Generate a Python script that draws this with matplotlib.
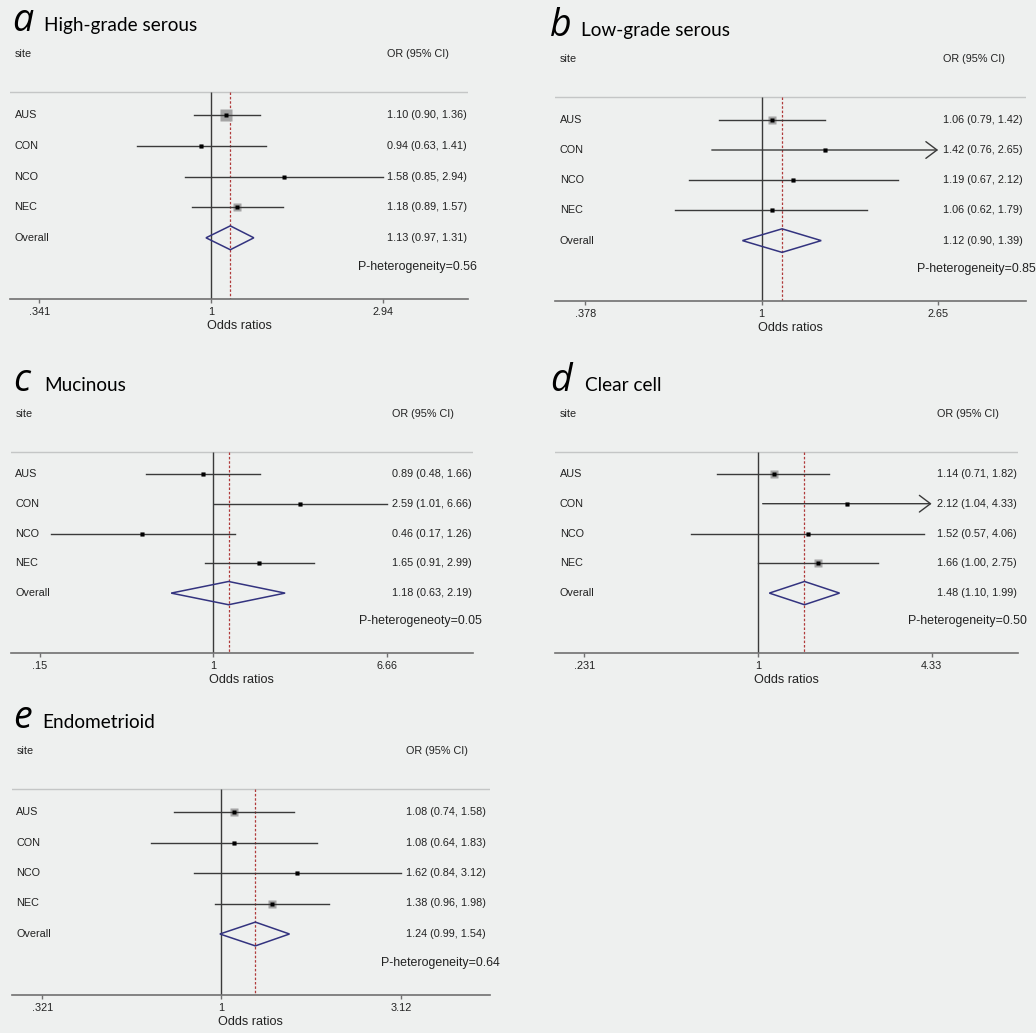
import numpy as np
import matplotlib.pyplot as plt
from matplotlib.patches import Polygon
import matplotlib.transforms as mtransforms

plt.rcParams['font.family'] = ['Liberation Sans', 'DejaVu Sans']

# study sites and panel titles
sites = ["AUS", "CON", "NCO", "NEC"]
letters = ["a", "b", "c", "d", "e"]
titles = ["High-grade serous", "Low-grade serous", "Mucinous", "Clear cell", "Endometrioid"]

# odds ratios with 95% CI per histotype
hgs_or = [1.10, 0.94, 1.58, 1.18]
hgs_lo = [0.90, 0.63, 0.85, 0.89]
hgs_hi = [1.36, 1.41, 2.94, 1.57]
hgs_overall = [1.13, 0.97, 1.31]
hgs_weight = [56, 11, 4, 34]

lgs_or = [1.06, 1.42, 1.19, 1.06]
lgs_lo = [0.79, 0.76, 0.67, 0.62]
lgs_hi = [1.42, 2.65, 2.12, 1.79]
lgs_overall = [1.12, 0.90, 1.39]
lgs_weight = [25, 6, 6, 6]

muc_or = [0.89, 2.59, 0.46, 1.65]
muc_lo = [0.48, 1.01, 0.17, 0.91]
muc_hi = [1.66, 6.66, 1.26, 2.99]
muc_overall = [1.18, 0.63, 2.19]
muc_weight = [8, 8, 8, 11]

cc_or = [1.14, 2.12, 1.52, 1.66]
cc_lo = [0.71, 1.04, 0.57, 1.00]
cc_hi = [1.82, 4.33, 4.06, 2.75]
cc_overall = [1.48, 1.10, 1.99]
cc_weight = [25, 11, 6, 29]

endo_or = [1.08, 1.08, 1.62, 1.38]
endo_lo = [0.74, 0.64, 0.84, 0.96]
endo_hi = [1.58, 1.83, 3.12, 1.98]
endo_overall = [1.24, 0.99, 1.54]
endo_weight = [25, 11, 6, 34]

p_het = ["P-heterogeneity=0.56", "P-heterogeneity=0.85", "P-heterogeneoty=0.05",
         "P-heterogeneity=0.50", "P-heterogeneity=0.64"]

tick_vals = [[0.341, 1, 2.94], [0.378, 1, 2.65], [0.15, 1, 6.66], [0.231, 1, 4.33], [0.321, 1, 3.12]]
tick_labels = [[".341", "1", "2.94"], [".378", "1", "2.65"], [".15", "1", "6.66"],
               [".231", "1", "4.33"], [".321", "1", "3.12"]]

# CI truncated at the axis limit -> drawn with an arrow
arrows = [[False] * 4, [False, True, False, False], [False] * 4,
          [False, True, False, False], [False] * 4]

panels = [
    (hgs_or, hgs_lo, hgs_hi, hgs_overall, hgs_weight),
    (lgs_or, lgs_lo, lgs_hi, lgs_overall, lgs_weight),
    (muc_or, muc_lo, muc_hi, muc_overall, muc_weight),
    (cc_or, cc_lo, cc_hi, cc_overall, cc_weight),
    (endo_or, endo_lo, endo_hi, endo_overall, endo_weight),
]

# panel layout in pixels: left, right, axis line y, row spacing, letter x, title x
layout = [
    (10, 468, 299, 30.6, 12, 44),
    (555, 1026, 301, 30.2, 550, 581),
    (10.7, 473, 652.7, 29.8, 12.7, 44.3),
    (555, 1018, 652.7, 29.8, 550.3, 584.7),
    (11.7, 490, 995, 30.5, 12.7, 42.7),
]

W, H = 1036, 1033
bg = "#eef0ef"
line_col = "#3a3a3a"
fig = plt.figure(figsize=(W / 100, H / 100), dpi=100, facecolor=bg)

F1, D = 0.4385, 0.375  # axis fraction of OR=1 and of the max tick

for i, (est, lo, hi, overall, weight) in enumerate(panels):
    left, right, axis_y, sp, letter_x, title_x = layout[i]
    height = 8.5 * sp
    ax = fig.add_axes([left / W, 1 - axis_y / H, (right - left) / W, height / H])
    ax.set_facecolor("none")
    ax.set_xscale("log")
    xmax = tick_vals[i][-1]
    ax.set_xlim(xmax ** (-F1 / D), xmax ** ((1 - F1) / D))
    ax.set_ylim(7, -1.5)

    for s in ["top", "left", "right"]:
        ax.spines[s].set_visible(False)
    ax.spines["bottom"].set_color("#707070")
    ax.spines["bottom"].set_linewidth(1.2)
    ax.set_yticks([])
    ax.xaxis.set_minor_locator(plt.NullLocator())
    ax.set_xticks(tick_vals[i])
    ax.set_xticklabels(tick_labels[i], fontsize=7.8, color="#222222")
    ax.tick_params(axis="x", length=3, width=1, color="#707070", pad=3)
    ax.set_xlabel("Odds ratios", fontsize=9.1, labelpad=2, color="#222222")

    # header rule, null line and overall estimate line
    ax.axhline(0.25, color="#c4c6c6", lw=1)
    ax.vlines(1, 0.25, 7, color=line_col, lw=1)
    ax.vlines(overall[0], 0.25, 7, color="#b03a3a", lw=0.9, linestyles=(0, (2, 1.5)))

    rows = np.arange(1, len(sites) + 1)
    for r, e, l, h, w, arr in zip(rows, est, lo, hi, weight, arrows[i]):
        side = 1.5 * np.sqrt(w) * 0.72
        ax.plot(e, r, marker="s", ms=side, color="#a4a4a4", mec="none", zorder=2)
        if arr:
            ax.annotate("", xy=(h, r), xytext=(l, r),
                        arrowprops=dict(arrowstyle="->,head_length=0.8,head_width=0.6",
                                        color=line_col, lw=1, shrinkA=0, shrinkB=0),
                        zorder=3)
        else:
            ax.plot([l, h], [r, r], color=line_col, lw=1, zorder=3)
        ax.plot(e, r, marker="s", ms=2.3, color="black", mec="none", zorder=4)

    # pooled estimate diamond
    yo = len(sites) + 1
    ov, ol, oh = overall
    ax.add_patch(Polygon([(ol, yo), (ov, yo - 0.39), (oh, yo), (ov, yo + 0.39)],
                         closed=True, fill=False, ec="#33337f", lw=1.1, zorder=3))

    tr = mtransforms.blended_transform_factory(ax.transAxes, ax.transData)
    txt = dict(transform=tr, fontsize=7.8, color="#222222", va="center")
    ax.text(0.010, -1, "site", **txt)
    ax.text(0.824, -1, "OR (95% CI)", **txt)
    for r, name, e, l, h in zip(rows, sites, est, lo, hi):
        ax.text(0.010, r, name, **txt)
        ax.text(0.824, r, f"{e:.2f} ({l:.2f}, {h:.2f})", **txt)
    ax.text(0.010, yo, "Overall", **txt)
    ax.text(0.824, yo, f"{ov:.2f} ({ol:.2f}, {oh:.2f})", **txt)
    ax.text(1.02, 5.95, p_het[i], transform=tr, fontsize=8.9, color="#222222",
            va="center", ha="right", clip_on=False)

    # panel letter and histotype title
    base = 1 - (axis_y - (7 - (-1.77)) * sp) / H
    fig.text(letter_x / W, base, letters[i], fontsize=27, style="italic",
             family="Open Sans", va="baseline", color="black")
    fig.text(title_x / W, base, titles[i], fontsize=13.7, family="Lato",
             va="baseline", color="black")

fig.savefig("out.png", dpi=100, facecolor=bg)
